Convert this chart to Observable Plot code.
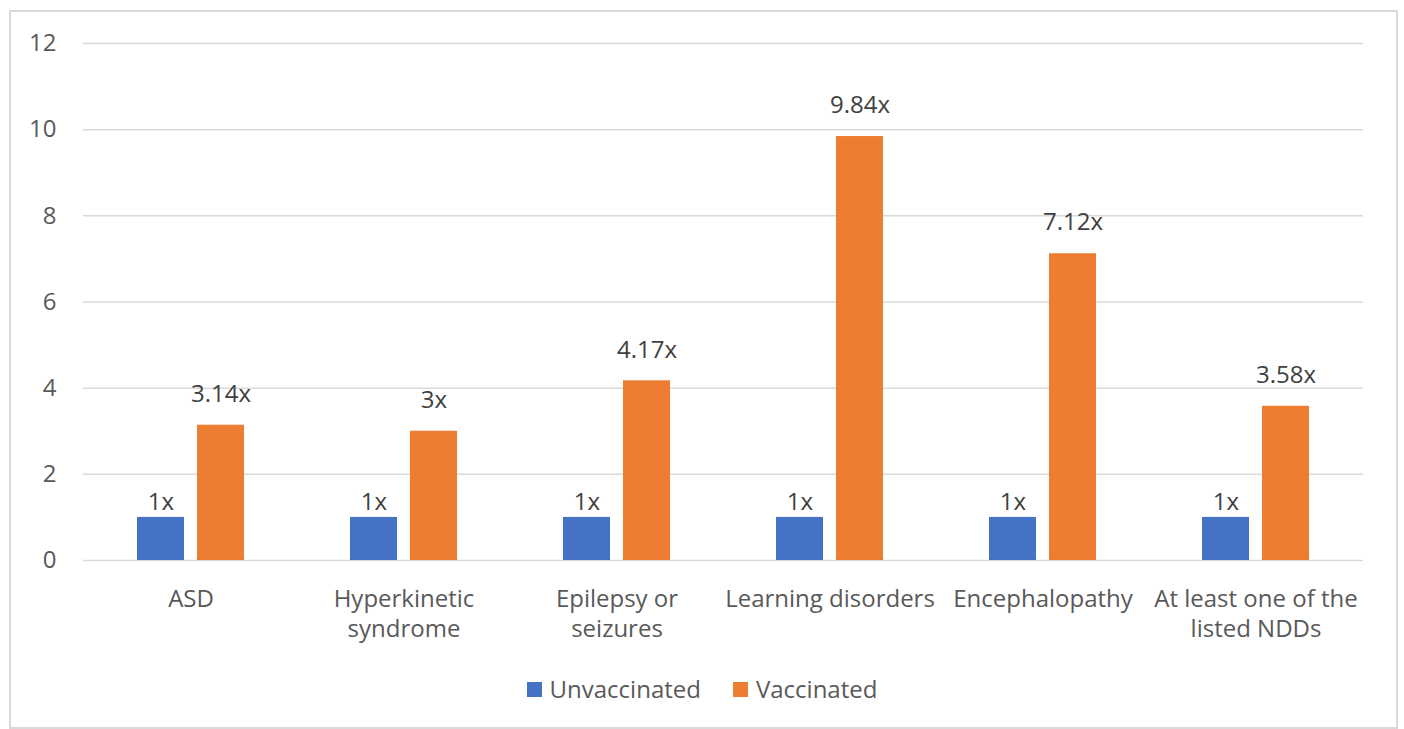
<!DOCTYPE html>
<html>
<head>
<meta charset="utf-8">
<script src="https://cdn.jsdelivr.net/npm/d3@7"></script>
<script src="https://cdn.jsdelivr.net/npm/@observablehq/plot@0.6"></script>
<style>
  html, body { margin: 0; padding: 0; background: #fff; }
  #wrap { position: relative; width: 1404px; height: 729px; overflow: hidden; font-family: "Open Sans", sans-serif; color: #595959; }
  #frame { position: absolute; left: 9px; top: 10px; width: 1389px; height: 719px; border: 2px solid #d9d9d9; box-sizing: border-box; }
  #bg, #chart { position: absolute; left: 0; top: 0; }
  #legend { position: absolute; left: 0; top: 672px; width: 1404px; display: flex; justify-content: center; gap: 32px; font-size: 24px; line-height: 34px; }
  #legend .item { display: flex; align-items: center; gap: 8px; }
  #legend .sw { width: 15px; height: 15px; display: inline-block; }
</style>
</head>
<body>
<div id="wrap">
  <div id="frame"></div>
  <div id="bg"></div>
  <div id="chart"></div>
  <div id="legend"></div>
</div>
<script>
const categories = ["ASD", "Hyperkinetic syndrome", "Epilepsy or seizures", "Learning disorders", "Encephalopathy", "At least one of the listed NDDs"];
const categoryLabels = ["ASD", "Hyperkinetic\nsyndrome", "Epilepsy or\nseizures", "Learning disorders", "Encephalopathy", "At least one of the\nlisted NDDs"];
const series = ["Unvaccinated", "Vaccinated"];
const unvaccinated = [1, 1, 1, 1, 1, 1];
const vaccinated = [3.14, 3, 4.17, 9.84, 7.12, 3.58];
const unvaccinatedLabels = ["1x", "1x", "1x", "1x", "1x", "1x"];
const vaccinatedLabels = ["3.14x", "3x", "4.17x", "9.84x", "7.12x", "3.58x"];
const yTicks = [0, 2, 4, 6, 8, 10, 12];
const colors = ["#4472C4", "#ED7D31"];

const data = [];
categories.forEach((c, i) => {
  data.push({category: c, series: series[0], value: unvaccinated[i], label: unvaccinatedLabels[i]});
  data.push({category: c, series: series[1], value: vaccinated[i], label: vaccinatedLabels[i]});
});
const labelOf = new Map(categories.map((c, i) => [c, categoryLabels[i]]));

const common = {
  width: 1404,
  height: 660,
  marginLeft: 83,
  marginRight: 41,
  marginTop: 43,
  marginBottom: 100,
  style: {fontFamily: "'Open Sans', sans-serif", color: "#595959", background: "transparent", overflow: "visible"},
  y: {domain: [0, 12], label: null, axis: null}
};

// Background layer: full-width gridlines, y axis and category labels
const bg = Plot.plot({
  ...common,
  x: {type: "band", domain: categories, padding: 0, axis: null},
  marks: [
    Plot.ruleY(yTicks, {stroke: "#d9d9d9", strokeWidth: 1.5}),
    Plot.axisY({ticks: yTicks, tickSize: 0, tickPadding: 27, fontSize: 24, fill: "#595959", label: null}),
    Plot.text(categories, {x: d => d, text: d => labelOf.get(d), frameAnchor: "bottom", lineAnchor: "top", dy: 25, lineHeight: 1.25, fontSize: 24, fill: "#595959"})
  ]
});
document.getElementById("bg").appendChild(bg);

// Foreground layer: grouped bars and value labels
const chart = Plot.plot({
  ...common,
  fx: {domain: categories, paddingInner: 0.49, paddingOuter: 0.245, axis: null, label: null},
  x: {domain: series, paddingInner: 0.213, paddingOuter: 0, axis: null},
  color: {domain: series, range: colors},
  marks: [
    Plot.barY(data, {fx: "category", x: "series", y: "value", fill: "series"}),
    Plot.text(data.filter(d => d.series === series[0]), {fx: "category", x: "series", y: "value", text: "label", dy: -15, fontSize: 24, fill: "#404040"}),
    Plot.text(data.filter(d => d.series === series[1]), {fx: "category", x: "series", y: "value", text: "label", dy: -31, fontSize: 24, fill: "#404040"})
  ]
});
document.getElementById("chart").appendChild(chart);

const legend = document.getElementById("legend");
series.forEach((s, i) => {
  const item = document.createElement("div");
  item.className = "item";
  const sw = document.createElement("span");
  sw.className = "sw";
  sw.style.background = colors[i];
  const t = document.createElement("span");
  t.textContent = s;
  item.appendChild(sw);
  item.appendChild(t);
  legend.appendChild(item);
});
</script>
</body>
</html>
